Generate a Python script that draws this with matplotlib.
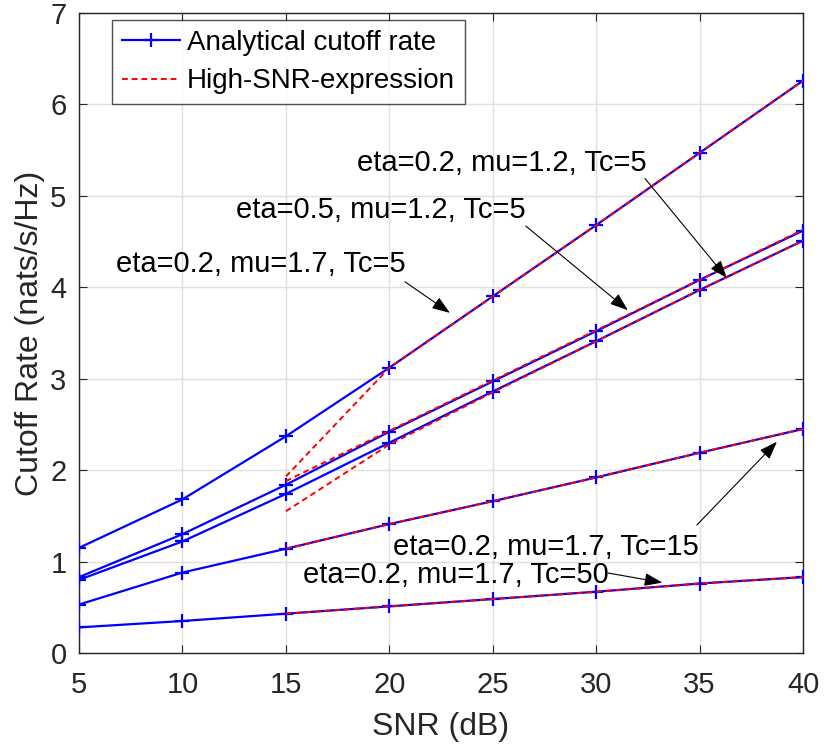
import matplotlib
matplotlib.use("Agg")
import matplotlib.pyplot as plt

plt.rcParams['font.family'] = ['Liberation Sans', 'DejaVu Sans']

snr = [5, 10, 15, 20, 25, 30, 35, 40]
snr_high = [15, 20, 25, 30, 35, 40]

cut_a = [1.15, 1.68, 2.37, 3.12, 3.90, 4.68, 5.47, 6.26]   # eta=0.2, mu=1.7, Tc=5
cut_b = [0.83, 1.30, 1.84, 2.42, 2.97, 3.52, 4.08, 4.62]   # eta=0.5, mu=1.2, Tc=5
cut_c = [0.80, 1.22, 1.74, 2.30, 2.86, 3.41, 3.97, 4.51]   # eta=0.2, mu=1.2, Tc=5
cut_d = [0.53, 0.88, 1.14, 1.41, 1.66, 1.92, 2.19, 2.45]   # Tc=15
cut_e = [0.28, 0.35, 0.43, 0.51, 0.59, 0.67, 0.76, 0.83]   # Tc=50

high_a = [1.93, 3.12, 3.90, 4.68, 5.47, 6.26]
high_b = [1.88, 2.43, 2.98, 3.53, 4.08, 4.63]
high_c = [1.55, 2.28, 2.85, 3.41, 3.97, 4.51]
high_d = [1.14, 1.41, 1.66, 1.92, 2.19, 2.45]
high_e = [0.43, 0.51, 0.59, 0.67, 0.76, 0.83]

fig = plt.figure(figsize=(8.24, 7.47), dpi=100)
ax = fig.add_axes([79/824, 94/747, (803-79)/824, (653-13)/747])

blue = '#0000ff'
red = '#ff0000'
for i, ys in enumerate([cut_a, cut_b, cut_c, cut_d, cut_e]):
    ax.plot(snr, ys, color=blue, lw=1.6, marker='+', ms=10, mew=1.6,
            label='Analytical cutoff rate' if i == 0 else None, zorder=3)
for i, ys in enumerate([high_a, high_b, high_c, high_d, high_e]):
    ax.plot(snr_high, ys, color=red, lw=1.4, ls=(0, (3, 2)),
            label='High-SNR-expression' if i == 0 else None, zorder=4)

ax.set_xlim(5, 40)
ax.set_ylim(0, 7)
ax.set_xticks(snr)
ax.set_yticks(range(0, 8))
ax.grid(True, color='#e0e0e0', lw=1)
ax.set_axisbelow(True)
ax.tick_params(direction='in', length=6, labelsize=21, colors='#262626',
               top=True, right=True)
ax.tick_params(axis='x', pad=13)
ax.tick_params(axis='y', pad=9)
for s in ax.spines.values():
    s.set_color('#262626')
    s.set_linewidth(1)
ax.set_xlabel('SNR (dB)', fontsize=23, color='#262626', labelpad=9)
ax.set_ylabel('Cutoff Rate (nats/s/Hz)', fontsize=23, color='#262626', labelpad=4)

leg = ax.legend(loc='upper left', bbox_to_anchor=((112-79)/724, 1-7/640), fontsize=20,
                frameon=True, fancybox=False, edgecolor='#262626',
                handlelength=2.1, borderpad=0.35, labelspacing=0.45,
                handletextpad=0.25, borderaxespad=0.0)
leg.get_frame().set_linewidth(1)

ann_texts = ['eta=0.2, mu=1.2, Tc=5', 'eta=0.5, mu=1.2, Tc=5',
             'eta=0.2, mu=1.7, Tc=5', 'eta=0.2, mu=1.7, Tc=15',
             'eta=0.2, mu=1.7, Tc=50']
text_pos = [(32.45, 5.36), (26.6, 4.84), (20.8, 4.25), (34.95, 1.16), (30.6, 0.85)]
arrow_tail = [(32.36, 5.19), (26.6, 4.67), (20.76, 4.06), (34.87, 1.40), (30.57, 0.875)]
arrow_tip = [(36.32, 4.10), (31.53, 3.75), (22.93, 3.72), (38.74, 2.31), (33.2, 0.77)]

for t, tp, tl, tip in zip(ann_texts, text_pos, arrow_tail, arrow_tip):
    ax.text(tp[0], tp[1], t, ha='right', va='center', fontsize=21, zorder=6)
    ax.annotate('', xy=tip, xytext=tl,
                arrowprops=dict(arrowstyle='-|>,head_length=1.1,head_width=0.4',
                                color='black', lw=0.8, shrinkA=0, shrinkB=0),
                zorder=6)

fig.savefig('out.png', dpi=100)
